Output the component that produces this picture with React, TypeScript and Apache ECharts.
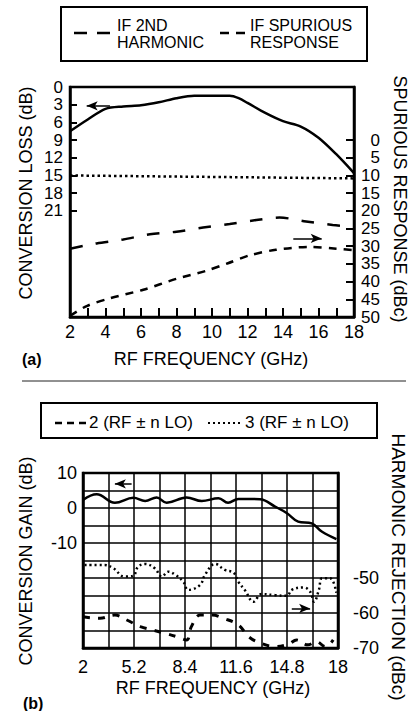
import React, { useEffect, useRef } from 'react';
import * as echarts from 'echarts';

// ---------- Panel (a) ----------
const freqLoss = [2, 3, 4, 5, 6, 7, 8, 9, 10, 11, 11.5, 12, 13, 14, 15, 16, 17, 18];
const conversionLoss = [7.5, 5.5, 3.7, 3.3, 3.1, 2.6, 1.9, 1.5, 1.5, 1.5, 1.9, 2.7, 4.4, 5.8, 6.7, 8.6, 11.4, 14.6];
const freqRefLine = [2, 18];
const refLevel = [15.0, 15.5];
const freqHarm = [2, 3.5, 5, 6.5, 8, 9.5, 11, 12.5, 13.8, 15.3, 16.8, 18];
const if2ndHarmonic = [30.7, 29.2, 28.1, 26.6, 25.9, 24.7, 23.7, 22.6, 21.9, 23.0, 24.0, 24.5];
const freqSpur = [2, 2.94, 4.25, 6.13, 8.0, 9.7, 10.9, 12.1, 13.6, 15.5, 17.0, 18];
const ifSpurious = [49.7, 46.9, 44.7, 42.3, 39.2, 36.9, 34.8, 32.6, 31.0, 30.2, 30.7, 31.1];
const lossTicks = [0, 3, 6, 9, 12, 15, 18, 21];
const spurTicks = [0, 5, 10, 15, 20, 25, 30, 35, 40, 45, 50];
const arrowLossA = [[4.25, 3.2], [2.94, 3.2]];
const arrowSpurA = [[14.58, 27.8], [16.18, 27.8]];

// ---------- Panel (b) ----------
const freqGain = [2, 2.86, 4.0, 5.16, 5.9, 6.62, 7.25, 8.5, 9.45, 10.5, 11.1, 11.75, 13.1, 14.05, 14.8, 15.5, 16.35, 17.0, 17.9];
const conversionGain = [2.3, 3.9, 1.5, 2.9, 2.0, 3.0, 1.5, 3.0, 2.0, 2.8, 1.5, 2.6, 2.5, 0.4, -1.5, -3.9, -4.4, -6.8, -8.9];
const freqH3 = [2.1, 3.35, 3.9, 4.6, 5.15, 5.45, 5.9, 6.5, 6.95, 7.35, 7.8, 8.3, 8.6, 9.35, 9.65, 10.3, 10.9, 11.45, 11.75, 12.15, 12.7, 13.2, 14.05, 14.8, 15.1, 15.85, 16.25, 16.5, 16.8, 17.0, 17.5, 17.9];
const harm3 = [-46.3, -46.3, -47.2, -49.6, -49.4, -46.8, -46.0, -47.2, -49.6, -48.2, -49.1, -51.1, -53.4, -52.0, -49.1, -46.0, -47.7, -48.5, -51.1, -53.4, -56.8, -54.6, -54.9, -55.1, -53.4, -52.7, -53.9, -56.8, -53.4, -50.1, -50.1, -54.2];
const freqH2 = [2, 3.07, 4.0, 4.75, 5.6, 6.4, 7.15, 7.9, 8.5, 8.8, 9.35, 10.1, 10.8, 11.75, 12.4, 13.2, 14.05, 14.9, 15.4, 16.1, 16.65, 17.2, 17.7];
const harm2 = [-61.1, -61.5, -60.6, -62.0, -63.9, -64.9, -65.8, -66.8, -67.7, -63.9, -60.6, -60.6, -61.5, -63.4, -66.8, -68.7, -69.6, -68.9, -67.7, -69.1, -68.2, -69.6, -67.7];
const gainLabels = [10, 0, -10];
const rejLabels = [-50, -60, -70];
const arrowGainB = [[5.05, 6.9], [4.0, 6.9]];
const arrowRejB = [[15.1, -58.7], [16.25, -58.7]];

const FONT = '"Liberation Sans", Arial, Helvetica, sans-serif';
const zip = (xs: number[], ys: number[]) => xs.map((x, i) => [x, ys[i]]);

const arrowLine = (pts: number[][]) => ({
  silent: true,
  symbol: ['none', 'arrow'],
  symbolSize: [7, 11],
  lineStyle: { color: '#000', width: 1.5, type: 'solid' },
  label: { show: false },
  emphasis: { disabled: true },
  data: [[{ coord: pts[0] }, { coord: pts[1] }]],
});

export default function App() {
  const ref = useRef<HTMLDivElement>(null);
  useEffect(() => {
    if (!ref.current) return;
    const chart = echarts.init(ref.current, null, { renderer: 'svg' });
    const axisLine = { show: true, onZero: false, lineStyle: { color: '#000', width: 2.5 } };
    const labelBase = { color: '#000', fontFamily: FONT, fontSize: 18 };
    const text = (t: string, x: number, y: number, size: number, extra: any = {}) => ({
      type: 'text',
      x,
      y,
      rotation: extra.rotation || 0,
      silent: true,
      style: {
        text: t,
        fontSize: size,
        fontFamily: FONT,
        fontWeight: extra.bold ? 'bold' : 'normal',
        fill: '#000',
        align: extra.align || 'center',
        verticalAlign: 'middle',
        lineHeight: extra.lineHeight,
      },
    });
    const option: any = {
      animation: false,
      backgroundColor: '#fff',
      grid: [
        { left: 70, top: 87, width: 284, height: 230, show: true, borderColor: '#000', borderWidth: 2.5, backgroundColor: 'transparent' },
        { left: 83, top: 473, width: 255, height: 175, show: true, borderColor: '#000', borderWidth: 2.5, backgroundColor: 'transparent' },
      ],
      xAxis: [
        {
          type: 'value', gridIndex: 0, min: 2, max: 18, interval: 1,
          axisLine,
          axisTick: { show: true, inside: true, length: 9, lineStyle: { color: '#000', width: 2 } },
          axisLabel: { ...labelBase, margin: 6, formatter: (v: number) => (Math.round(v) % 2 === 0 ? String(v) : '') },
          splitLine: { show: false },
        },
        {
          type: 'value', gridIndex: 1, min: 2, max: 18, interval: 1.6,
          axisLine,
          axisTick: { show: false },
          axisLabel: {
            ...labelBase, margin: 10,
            formatter: (v: number) => {
              const k = Math.round((v - 2) / 1.6);
              return k % 2 === 0 ? String(Math.round(v * 10) / 10) : '';
            },
          },
          splitLine: { show: true, lineStyle: { color: '#000', width: 1.5 } },
        },
      ],
      yAxis: [
        {
          type: 'value', gridIndex: 0, min: 0, max: 39, interval: 3, inverse: true, position: 'left',
          axisLine,
          axisTick: { show: true, inside: true, length: 7, customValues: lossTicks, lineStyle: { color: '#000', width: 2 } },
          axisLabel: {
            ...labelBase, fontSize: 17, lineHeight: 16, margin: 7, showMinLabel: true,
            formatter: (v: number) => (lossTicks.includes(v) ? String(v) : ''),
          },
          splitLine: { show: false },
        },
        {
          type: 'value', gridIndex: 0, min: -15, max: 50, interval: 5, inverse: true, position: 'right',
          axisLine,
          axisTick: { show: true, inside: true, length: 8, customValues: spurTicks, lineStyle: { color: '#000', width: 2 } },
          axisLabel: {
            ...labelBase, fontSize: 17, lineHeight: 16, margin: 26, align: 'right', showMaxLabel: true,
            formatter: (v: number) => (spurTicks.includes(v) ? String(v) : ''),
          },
          splitLine: { show: false },
        },
        {
          type: 'value', gridIndex: 1, min: -40, max: 10, interval: 5, position: 'left',
          axisLine,
          axisTick: { show: false },
          axisLabel: { ...labelBase, margin: 6, showMaxLabel: true, formatter: (v: number) => (gainLabels.includes(v) ? String(v) : '') },
          splitLine: { show: true, lineStyle: { color: '#000', width: 1.5 } },
        },
        {
          type: 'value', gridIndex: 1, min: -70, max: -20, interval: 5, position: 'right',
          axisLine,
          axisTick: { show: false },
          axisLabel: { ...labelBase, margin: 15, showMinLabel: true, formatter: (v: number) => (rejLabels.includes(v) ? String(v) : '') },
          splitLine: { show: false },
        },
      ],
      series: [
        {
          name: 'Conversion loss', type: 'line', xAxisIndex: 0, yAxisIndex: 0, smooth: 0.3,
          symbol: 'none', data: zip(freqLoss, conversionLoss),
          lineStyle: { color: '#000', width: 2.5, type: 'solid' },
          markLine: arrowLine(arrowLossA),
        },
        {
          name: 'Reference', type: 'line', xAxisIndex: 0, yAxisIndex: 0,
          symbol: 'none', data: zip(freqRefLine, refLevel),
          lineStyle: { color: '#000', width: 2.5, type: [2.5, 3] },
        },
        {
          name: 'IF 2ND HARMONIC', type: 'line', xAxisIndex: 0, yAxisIndex: 1, smooth: 0.3,
          symbol: 'none', data: zip(freqHarm, if2ndHarmonic),
          lineStyle: { color: '#000', width: 2.5, type: [13, 13] },
        },
        {
          name: 'IF SPURIOUS RESPONSE', type: 'line', xAxisIndex: 0, yAxisIndex: 1, smooth: 0.3,
          symbol: 'none', data: zip(freqSpur, ifSpurious),
          lineStyle: { color: '#000', width: 2.5, type: [8, 7] },
          markLine: arrowLine(arrowSpurA),
        },
        {
          name: 'Conversion gain', type: 'line', xAxisIndex: 1, yAxisIndex: 2, smooth: 0.4,
          symbol: 'none', data: zip(freqGain, conversionGain),
          lineStyle: { color: '#000', width: 2.5, type: 'solid' },
          markLine: arrowLine(arrowGainB),
        },
        {
          name: '3 (RF ± n LO)', type: 'line', xAxisIndex: 1, yAxisIndex: 3, smooth: 0.4,
          symbol: 'none', data: zip(freqH3, harm3),
          lineStyle: { color: '#000', width: 2.5, type: [2, 3] },
          markLine: arrowLine(arrowRejB),
        },
        {
          name: '2 (RF ± n LO)', type: 'line', xAxisIndex: 1, yAxisIndex: 3, smooth: 0.4,
          symbol: 'none', data: zip(freqH2, harm2),
          lineStyle: { color: '#000', width: 3, type: [7, 8] },
        },
      ],
      graphic: [
        // legend (a)
        { type: 'rect', silent: true, shape: { x: 61, y: 7, width: 306, height: 54 }, style: { fill: 'none', stroke: '#000', lineWidth: 2 } },
        { type: 'line', silent: true, shape: { x1: 74, y1: 33, x2: 110, y2: 33 }, style: { stroke: '#000', lineWidth: 2.5, lineDash: [13, 10] } },
        text('IF 2ND\nHARMONIC', 117, 34, 16, { align: 'left', lineHeight: 17 }),
        { type: 'line', silent: true, shape: { x1: 220, y1: 33, x2: 246, y2: 33 }, style: { stroke: '#000', lineWidth: 2.5, lineDash: [9, 7] } },
        text('IF SPURIOUS\nRESPONSE', 250, 34, 16, { align: 'left', lineHeight: 17 }),
        // axis titles (a)
        text('CONVERSION LOSS (dB)', 26, 193, 18, { rotation: Math.PI / 2 }),
        text('SPURIOUS RESPONSE (dBc)', 400, 199, 18, { rotation: -Math.PI / 2 }),
        text('RF FREQUENCY (GHz)', 211, 359, 18),
        text('(a)', 22, 359, 16, { align: 'left', bold: true }),
        // divider
        { type: 'line', silent: true, shape: { x1: 22, y1: 381, x2: 406, y2: 381 }, style: { stroke: '#222', lineWidth: 1 } },
        // legend (b)
        { type: 'rect', silent: true, shape: { x: 41, y: 403, width: 336, height: 35 }, style: { fill: 'none', stroke: '#000', lineWidth: 2 } },
        { type: 'line', silent: true, shape: { x1: 55, y1: 423, x2: 88, y2: 423 }, style: { stroke: '#000', lineWidth: 2.5, lineDash: [7, 5] } },
        text('2 (RF ± n LO)', 89, 422, 17, { align: 'left' }),
        { type: 'line', silent: true, shape: { x1: 208, y1: 423, x2: 243, y2: 423 }, style: { stroke: '#000', lineWidth: 2, lineDash: [2, 3] } },
        text('3 (RF ± n LO)', 245, 422, 17, { align: 'left' }),
        // axis titles (b)
        text('CONVERSION GAIN (dB)', 26, 561, 18, { rotation: Math.PI / 2 }),
        text('HARMONIC REJECTION (dBc)', 398, 567, 19, { rotation: -Math.PI / 2 }),
        text('RF FREQUENCY (GHz)', 213, 688, 18),
        text('(b)', 23, 703, 16, { align: 'left', bold: true }),
      ],
    };
    chart.setOption(option);
    return () => chart.dispose();
  }, []);
  return <div ref={ref} style={{ position: 'absolute', left: 0, top: 0, width: 411, height: 711 }} />;
}
